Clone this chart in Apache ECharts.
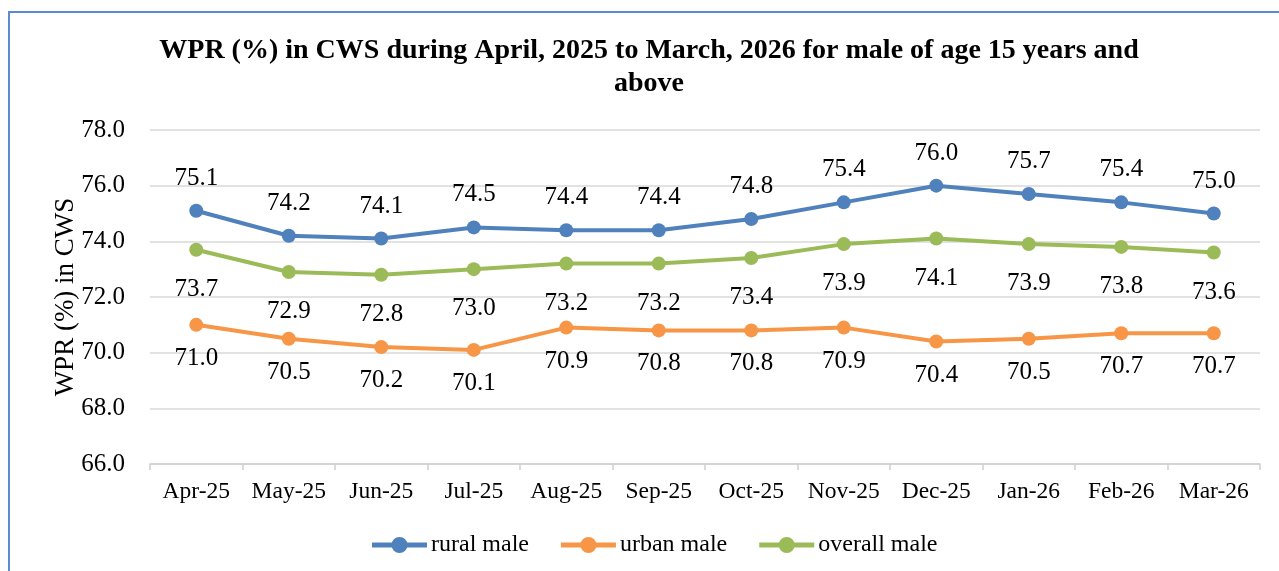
<!DOCTYPE html>
<html>
<head>
<meta charset="utf-8">
<script src="https://cdn.jsdelivr.net/npm/echarts@6/dist/echarts.min.js"></script>
<style>
html,body{margin:0;padding:0;background:#fff;}
#chart{width:1279px;height:571px;}
</style>
</head>
<body>
<div id="chart"></div>
<script>
const categories = ['Apr-25','May-25','Jun-25','Jul-25','Aug-25','Sep-25','Oct-25','Nov-25','Dec-25','Jan-26','Feb-26','Mar-26'];
const ruralMale = [75.1,74.2,74.1,74.5,74.4,74.4,74.8,75.4,76.0,75.7,75.4,75.0];
const urbanMale = [71.0,70.5,70.2,70.1,70.9,70.8,70.8,70.9,70.4,70.5,70.7,70.7];
const overallMale = [73.7,72.9,72.8,73.0,73.2,73.2,73.4,73.9,74.1,73.9,73.8,73.6];
const yTicks = {min:66, max:78, interval:2};
const titleText = 'WPR (%) in CWS during April, 2025 to March, 2026 for male of age 15 years and\nabove';

const FONT = '"Liberation Serif","Times New Roman",serif';
const LEGEND_ICON = 'path://M0,5.5 L55,5.5 L55,10.5 L0,10.5 Z M19.5,8 A8,8 0 1,1 35.5,8 A8,8 0 1,1 19.5,8 Z';
const chart = echarts.init(document.getElementById('chart'));

function mkSeries(name, data, color, pos, dist){
  return {
    name, type:'line', data,
    symbol:'circle', symbolSize:14,
    lineStyle:{color, width:4},
    itemStyle:{color},
    label:{show:true, position:pos, distance:dist, color:'#000', fontFamily:FONT, fontSize:25,
      formatter:p=>p.value.toFixed(1)}
  };
}

chart.setOption({
  animation:false,
  graphic:[
    {type:'rect', shape:{x:9,y:12,width:1320,height:620}, style:{fill:'none', stroke:'#5b8bd0', lineWidth:2}, silent:true},
    {type:'text', x:649, y:34, style:{text:titleText, textAlign:'center', textVerticalAlign:'top', fontFamily:FONT, fontWeight:'bold', fontSize:28, lineHeight:33, fill:'#000'}, silent:true}
  ],
  legend:{
    top:528, left:367, itemWidth:55, itemHeight:16, itemGap:32,
    icon:LEGEND_ICON,
    textStyle:{fontFamily:FONT, fontSize:24, color:'#000', padding:[0,0,0,-1]},
    data:['rural male','urban male','overall male']
  },
  grid:{left:150, right:19, top:130, bottom:107},
  xAxis:{
    type:'category', data:categories, boundaryGap:true,
    axisLine:{lineStyle:{color:'#d0d0d0', width:1.5}},
    axisTick:{show:true, length:6, lineStyle:{color:'#d0d0d0', width:1.5}},
    axisLabel:{fontFamily:FONT, fontSize:23.5, color:'#000', margin:16, interval:0}
  },
  yAxis:{
    type:'value', min:yTicks.min, max:yTicks.max, interval:yTicks.interval,
    name:'WPR (%) in CWS', nameLocation:'middle', nameGap:71, nameMoveOverlap:false,
    nameTextStyle:{fontFamily:FONT, fontSize:27, color:'#000'},
    axisLine:{show:false}, axisTick:{show:false},
    splitLine:{lineStyle:{color:'#d9d9d9', width:1.5}},
    axisLabel:{fontFamily:FONT, fontSize:25, color:'#000', margin:25, formatter:v=>v.toFixed(1)}
  },
  series:[
    mkSeries('rural male', ruralMale, '#4f81bd', 'top', 13),
    mkSeries('urban male', urbanMale, '#f79646', 'bottom', 14),
    mkSeries('overall male', overallMale, '#9bbb59', 'bottom', 20)
  ]
});
</script>
</body>
</html>
